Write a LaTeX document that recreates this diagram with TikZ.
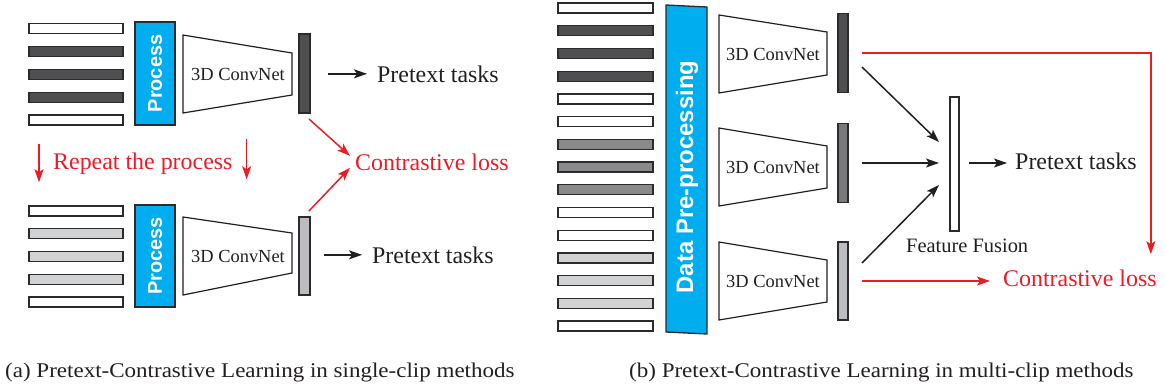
\documentclass[tikz,border=0pt]{standalone}
\usepackage{fontspec}
\setmainfont{Liberation Serif}
\newfontfamily\hvb{Liberation Sans}
\newfontfamily\capfont{Liberation Serif}[FakeStretch=1.1]
\usetikzlibrary{arrows.meta,calc}
\definecolor{cyanp}{HTML}{00AEEF}
\definecolor{dk}{HTML}{4F4F51}
\definecolor{md}{HTML}{8A8A8C}
\definecolor{lt}{HTML}{D1D2D3}
\definecolor{fmd}{HTML}{7A7A7C}
\definecolor{flt}{HTML}{BCBDC0}
\definecolor{redc}{HTML}{ED1C24}
\definecolor{txt}{HTML}{231F20}
\definecolor{edge}{HTML}{2B2B2B}
\begin{document}
\begin{tikzpicture}[x=1bp,y=-1bp,
  clipbar/.style={rectangle, draw=edge, line width=1.3bp, inner sep=0pt, outer sep=0pt, minimum height=10bp},
  featbar/.style={rectangle, draw=edge, line width=1.3bp, inner sep=0pt, outer sep=0pt},
  procbox/.style={rectangle, draw=edge, line width=1.3bp, fill=cyanp, inner sep=0pt, outer sep=0pt, rotate=90,
     text=white, font=\hvb\bfseries\fontsize{20}{20}\selectfont},
  trap/.style={draw=txt, line width=1.2bp, fill=white},
  cnlbl/.style={inner sep=0pt, text=txt, font=\fontsize{18.5}{18.5}\selectfont},
  lbl/.style={inner sep=0pt, text=txt, font=\fontsize{24}{24}\selectfont},
  rlbl/.style={inner sep=0pt, text=redc, font=\fontsize{24}{24}\selectfont},
  caplbl/.style={inner sep=0pt, text=txt, font=\capfont\fontsize{21}{21}\selectfont},
  arr/.style={draw=txt, line width=1.5bp, -{Stealth[length=13bp,width=9bp,inset=3bp]}},
  rarr/.style={draw=redc, line width=1.5bp, -{Stealth[length=13bp,width=9bp,inset=3bp]}}
]
\useasboundingbox (0,0) rectangle (1165,390);

% ---------- panel (a) ----------
\foreach \i/\c in {0/white,1/dk,2/dk,3/dk,4/white}
  \node[clipbar, fill=\c, minimum width=94bp] (ta\i) at (76,{28.5+22.9*\i}) {};
\foreach \i/\c in {0/white,1/lt,2/lt,3/lt,4/white}
  \node[clipbar, fill=\c, minimum width=94bp] (ba\i) at (76,{211+22.75*\i}) {};

\node[procbox, minimum width=103bp, minimum height=40bp] (pa1) at (155,73.5) {Process};
\node[procbox, minimum width=102bp, minimum height=40bp] (pa2) at (155,256) {Process};

\draw[trap] (183,35) -- (292,53) -- (292,95) -- (183,113) -- cycle;
\node[cnlbl] (cna1) at (238,74) {3D ConvNet};
\draw[trap] (183,217) -- (292,233) -- (292,273) -- (183,295) -- cycle;
\node[cnlbl] (cna2) at (238,256) {3D ConvNet};

\node[featbar, fill=dk, minimum width=11bp, minimum height=79bp] (fa1) at (304.5,73.5) {};
\node[featbar, fill=flt, minimum width=11bp, minimum height=78bp] (fa2) at (304.5,256) {};

\node[lbl, anchor=base west] (pta1) at (377,82) {Pretext tasks};
\node[lbl, anchor=base west] (pta2) at (372,263) {Pretext tasks};
\draw[arr, shorten <=18bp, shorten >=10bp] (fa1.east |- pta1.west) -- (pta1.west);
\draw[arr, shorten <=14bp, shorten >=10bp] (fa2.east |- pta2.west) -- (pta2.west);

\node[rlbl, anchor=base west] (cla) at (355,170) {Contrastive loss};
\draw[rarr] ($(fa1.south east)+(-1,6)$) -- ($(cla.west)+(-5,-6)$);
\draw[rarr] ($(fa2.north east)+(-1,-6)$) -- ($(cla.west)+(-5,6)$);

\node[rlbl, anchor=base west] (rep) at (53,169) {Repeat the process};
\draw[rarr] ($(rep.west)+(-14,-19)$) -- ++(0,38);
\draw[rarr] ($(rep.east)+(14,-24)$) -- ++(0,40);

% ---------- panel (b) ----------
\foreach \i/\c in {0/white,1/dk,2/dk,3/dk,4/white,5/white,6/md,7/md,8/md,9/white,10/white,11/lt,12/lt,13/lt,14/white}
  \node[clipbar, fill=\c, minimum width=95bp] (cb\i) at (605.5,{8+22.72*\i}) {};

\draw[draw=edge, line width=1.3bp, fill=cyanp] (666,5) -- (707,7) -- (707,334) -- (666,332) -- cycle;
\node[inner sep=0pt, rotate=90, text=white, font=\hvb\bfseries\fontsize{24}{24}\selectfont] (dpp) at (687,177) {Data Pre-processing};

\draw[trap] (719,15) -- (827,32) -- (827,75) -- (719,93) -- cycle;
\node[cnlbl] (cnb1) at (773,54) {3D ConvNet};
\draw[trap] (719,128) -- (827,146) -- (827,188) -- (719,206) -- cycle;
\node[cnlbl] (cnb2) at (773,167) {3D ConvNet};
\draw[trap] (719,242) -- (827,260) -- (827,302) -- (719,320) -- cycle;
\node[cnlbl] (cnb3) at (773,281) {3D ConvNet};

\node[featbar, fill=dk, minimum width=10bp, minimum height=79bp] (fb1) at (843,53) {};
\node[featbar, fill=fmd, minimum width=10bp, minimum height=79bp] (fb2) at (843,163) {};
\node[featbar, fill=flt, minimum width=10bp, minimum height=78bp] (fb3) at (843,281) {};

\node[featbar, fill=white, minimum width=9bp, minimum height=134bp] (fus) at (954.5,164) {};
\node[inner sep=0pt, text=txt, font=\fontsize{20.5}{20.5}\selectfont, anchor=base west] (ff) at (906,252) {Feature Fusion};

\draw[arr] ($(fb1.east)+(14,14)$) -- ($(fus.west)+(-11,-22)$);
\draw[arr, shorten <=14bp, shorten >=11bp] (fb2.east) -- (fb2.east -| fus.west);
\draw[arr] ($(fb3.east)+(14,-18)$) -- ($(fus.west)+(-11,21)$);

\node[lbl, anchor=base west] (ptb) at (1015,169) {Pretext tasks};
\draw[arr, shorten <=10bp, shorten >=8bp] (fus.east |- fb2.east) -- (fb2.east -| ptb.west);

\node[rlbl, anchor=base west] (clb) at (1003,286) {Contrastive loss};
\coordinate (rcorner) at ($(clb.north east)+(-6,0)$);
\draw[rarr] ($(fb1.east)+(14,0)$) -- ($(fb1.east -| rcorner)$) -- ($(rcorner)+(0,-15)$);
\draw[rarr, shorten <=14bp, shorten >=13bp] (fb3.east) -- (fb3.east -| clb.west);

% ---------- captions ----------
\node[caplbl, anchor=base west] (capa) at (5,377) {(a) Pretext-Contrastive Learning in single-clip methods};
\node[caplbl, anchor=base west] (capb) at (629,377) {(b) Pretext-Contrastive Learning in multi-clip methods};
\end{tikzpicture}
\end{document}
